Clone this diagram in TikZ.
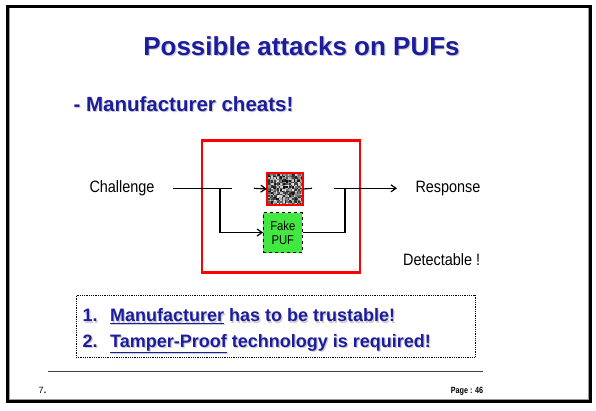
\documentclass[tikz,border=0pt]{standalone}
\usepackage{fontspec}
\setmainfont{Liberation Sans}
\newfontfamily\narrowfont[FakeStretch=0.8]{Liberation Sans}
\newfontfamily\slimfont[FakeStretch=0.88]{Liberation Sans}
\usetikzlibrary{arrows.meta,positioning,calc}
\definecolor{slideblue}{RGB}{28,28,158}
\definecolor{alarm}{RGB}{255,0,0}
\definecolor{fakegreen}{RGB}{64,232,64}
% soft drop shadow behind the blue slide text
\newcommand{\shadowed}[1]{\makebox[0pt][l]{\hspace{1.2pt}\raisebox{-1.2pt}{\textcolor{black!20}{#1}}}#1}

\begin{document}
\begin{tikzpicture}[x=1pt,y=-1pt,
  heading/.style={text=slideblue,font=\fontsize{26}{30}\selectfont\bfseries},
  subhead/.style={text=slideblue,font=\fontsize{20.5}{24}\selectfont\bfseries},
  signal/.style={font=\slimfont\fontsize{16.4}{19}\selectfont,inner sep=0pt},
  pufbox/.style={minimum width=36pt,minimum height=32pt,inner sep=0pt},
  fakebox/.style={draw,dashed,fill=fakegreen,minimum width=39pt,minimum height=40pt,
                  inner sep=0pt,align=center,font=\slimfont\fontsize{12.8}{14}\selectfont},
  attack/.style={draw=alarm,line width=2.7pt,minimum width=158pt,minimum height=132pt},
  notebox/.style={draw,densely dotted,line width=0.8pt,minimum width=399pt,minimum height=62pt},
  wire/.style={line width=1.2pt},
  arr/.style={wire,-{Straight Barb[length=5pt,width=7pt]}}
]
  \useasboundingbox (0,0) rectangle (596,410);

  % slide frame
  \draw[line width=2.6pt] (7.3,6.3) rectangle (590.7,401.3);
  \draw[black!40,line width=0.8pt] (9.4,8) -- (9.4,399.3) -- (588.6,399.3) -- (588.6,8);

  \node[heading] (title) at (301.5,47) {\shadowed{Possible attacks on PUFs}};
  \node[subhead,anchor=west] (cheat) at (70,105) {\shadowed{- Manufacturer cheats!}};

  % the cheating manufacturer's box
  \node[attack] (maker) at (281,206.3) {};
  \node[signal] (chal) at (122,188.3) {Challenge};
  \node[signal] (resp) at (448,189) {Response};
  \node[signal] (detect) at (441.7,260) {Detectable !};

  \node[pufbox] (puf) at (285,189) {};
  \begin{scope}
    \clip (puf.north west) rectangle (puf.south east);
    \pgfmathsetseed{46}
    \foreach \i in {0,...,23}
      \foreach \j in {0,...,21} {
        \pgfmathsetmacro\shade{int(random(10,95))}
        \fill[black!\shade] ($(puf.north west)+(1.5*\i,1.5*\j)$) rectangle ++(1.5,1.5);
      }
  \end{scope}
  \draw[alarm,line width=2pt] (puf.north west) rectangle (puf.south east);

  \node[fakebox] (fake) at (282.8,232.5) {Fake\\PUF};

  \coordinate (in)    at (173,188.3);
  \coordinate (split) at (220,188.3);
  \coordinate (cutA)  at (231.7,188.3);
  \coordinate (cutB)  at (254,188.3);
  \coordinate (cutC)  at (312,188.3);
  \coordinate (cutD)  at (334,188.3);
  \coordinate (join)  at (345,188.3);
  \coordinate (out)   at (397,188.3);

  \draw[wire] (in) -- (cutA);
  \draw[arr] (cutB) -- (puf.west);
  \draw[wire] (puf.east) -- (cutC);
  \draw[arr] (cutD) -- (out);
  \draw[arr] (split) |- (fake.west);
  \draw[wire] (fake.east) -| (join);

  % what has to hold
  \node[notebox] (notes) at (275.5,326.3) {};
  \node[anchor=west,align=left,inner sep=0pt,text=slideblue,
        font=\fontsize{18}{25.3}\selectfont\bfseries] (needs) at (82.5,331.5)
    {\shadowed{\makebox[27.5pt][l]{1.}\underline{Manufacturer} has to be trustable!}\\
     \shadowed{\makebox[27.5pt][l]{2.}\underline{Tamper-Proof} technology is required!}};

  % footer
  \draw[black!75,line width=1.2pt] (48,371.7) -- (482.7,371.7);
  \node[font=\fontsize{9}{10}\selectfont,inner sep=0pt] (slideno) at (42.5,390) {7\textbf{.}};
  \node[font=\narrowfont\fontsize{9}{10}\selectfont\bfseries,inner sep=0pt] (page) at (467,391) {Page : 46};
\end{tikzpicture}
\end{document}
